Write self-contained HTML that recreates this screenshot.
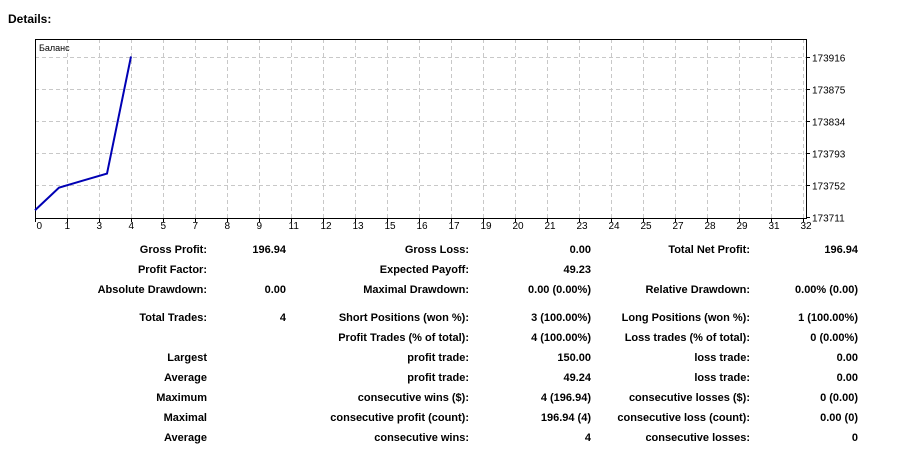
<!DOCTYPE html>
<html><head><meta charset="utf-8"><style>
body{margin:0;width:908px;height:452px;background:#fff;font-family:"Liberation Sans",sans-serif;overflow:hidden;position:relative}
.t{position:absolute;font-size:11px;font-weight:bold;color:#000;white-space:nowrap;line-height:14px}
.r{transform:translateX(-100%)}
</style></head><body>
<div class="t" style="left:8px;top:12px;font-size:12px">Details:</div>
<svg id="chart" width="908" height="235" style="position:absolute;left:0;top:0"></svg>
<div id="stats"></div>
<script>
const xLabels=[0,1,3,4,5,7,8,9,11,12,13,15,16,17,19,20,21,23,24,25,27,28,29,31,32];
const yTicks=[173711,173752,173793,173834,173875,173916];
const tradeIdx=[0,1,2,3,4];
const balance=[173719,173748,173757,173766,173916];
const NS="http://www.w3.org/2000/svg";
const svg=document.getElementById('chart');
const L=35,T=39,R=806,B=218;
const yv=v=>216.5-(v-173711)/41*32;
const xi=i=>L+24*i;
function mk(t,a){const e=document.createElementNS(NS,t);for(const k in a)e.setAttribute(k,a[k]);svg.appendChild(e);return e;}
yTicks.forEach((v,k)=>{const y=Math.round(yv(v))+0.5;
 if(k>0){const g=mk('line',{x1:L,x2:R,y1:y,y2:y,stroke:'#c8c8c8','stroke-dasharray':'4,3'});}
 const tk=mk('line',{x1:R,x2:R+4,y1:y,y2:y,stroke:'#000'});
 const t=mk('text',{x:R+6,y:y+4,'font-size':'10','font-family':'Liberation Sans, sans-serif'});t.textContent=v;
 });
xLabels.forEach((v,k)=>{const x=L+32*k+0.5;
 if(k>0){const g=mk('line',{x1:x,x2:x,y1:T,y2:B,stroke:'#c8c8c8','stroke-dasharray':'4,3'});}
 const tk=mk('line',{x1:x,x2:x,y1:B,y2:B+4,stroke:'#000'});
 const t=mk('text',{x:x+(k==0?1:-3),y:229,'font-size':'10','font-family':'Liberation Sans, sans-serif'});t.textContent=v;
 });
const fr=mk('rect',{x:L+0.5,y:T+0.5,width:R-L,height:B-T,fill:'none',stroke:'#000'});

const lg=mk('text',{x:39,y:51,'font-size':'9','font-family':'Liberation Sans, sans-serif'});lg.textContent='Баланс';

const pl=mk('polyline',{points:tradeIdx.map((i,k)=>xi(i)+','+yv(balance[k])).join(' '),fill:'none',stroke:'#0000b4','stroke-width':'2'});

const rows=[
[250,['Gross Profit:','196.94','Gross Loss:','0.00','Total Net Profit:','196.94']],
[270,['Profit Factor:','','Expected Payoff:','49.23','','']],
[290,['Absolute Drawdown:','0.00','Maximal Drawdown:','0.00 (0.00%)','Relative Drawdown:','0.00% (0.00)']],
[318,['Total Trades:','4','Short Positions (won %):','3 (100.00%)','Long Positions (won %):','1 (100.00%)']],
[338,['','','Profit Trades (% of total):','4 (100.00%)','Loss trades (% of total):','0 (0.00%)']],
[358,['Largest','','profit trade:','150.00','loss trade:','0.00']],
[378,['Average','','profit trade:','49.24','loss trade:','0.00']],
[398,['Maximum','','consecutive wins ($):','4 (196.94)','consecutive losses ($):','0 (0.00)']],
[418,['Maximal','','consecutive profit (count):','196.94 (4)','consecutive loss (count):','0.00 (0)']],
[438,['Average','','consecutive wins:','4','consecutive losses:','0']]];
const cols=[207,286,469,591,750,858];
const st=document.getElementById('stats');
rows.forEach(([y,cells])=>cells.forEach((c,i)=>{if(!c)return;const d=document.createElement('div');
 d.className='t r';d.style.left=cols[i]+'px';d.style.top=(y-7)+'px';d.textContent=c;
 
 st.appendChild(d);}));
</script>
</body></html>
